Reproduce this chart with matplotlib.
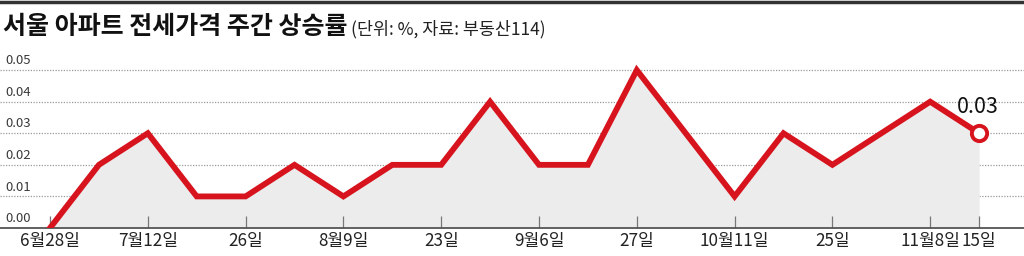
import matplotlib
matplotlib.use("Agg")
import matplotlib.pyplot as plt
import matplotlib.transforms as mtransforms

plt.rcParams["font.family"] = ["Noto Sans CJK KR", "DejaVu Sans"]

# weekly rate of change (%), 20 weeks from 6/28 to 11/15
values = [0.00, 0.02, 0.03, 0.01, 0.01, 0.02, 0.01, 0.02, 0.02, 0.04,
          0.02, 0.02, 0.05, 0.03, 0.01, 0.03, 0.02, 0.03, 0.04, 0.03]
tick_idx = [0, 2, 4, 6, 8, 10, 12, 14, 16, 18, 19]
tick_labels = ["6월28일", "7월12일", "26일", "8월9일", "23일", "9월6일",
               "27일", "10월11일", "25일", "11월8일", "15일"]
y_ticks = [0.00, 0.01, 0.02, 0.03, 0.04, 0.05]

RED = "#d7141e"
W, H = 1024, 256

fig = plt.figure(figsize=(10.24, 2.56), dpi=100)
ax = fig.add_axes([0, 28 / H, 1, 168 / H])

x = list(range(len(values)))
step = 48.9
ax.set_xlim(-50 / step, (W - 50) / step)
ax.set_ylim(0, 0.0532)

ax.fill_between(x, values, 0, color="#ececec", lw=0, zorder=1)
ax.plot(x, values, color=RED, lw=4.2, solid_joinstyle="miter", zorder=3)
ax.plot(x[-1], values[-1], "o", ms=11, mfc="white", mec=RED, mew=2.8, zorder=4)
ax.annotate(f"{values[-1]:.2f}", (x[-1], values[-1]), xytext=(-1, 11),
            textcoords="offset points", ha="center", va="bottom",
            fontsize=15.5, color="#111111")

# dotted gridlines with labels sitting above them at the left edge
for v in y_ticks[1:]:
    ax.axhline(v, color="#9a9a9a", lw=0.9, ls=(0, (1, 1.2)), zorder=0)
trans = mtransforms.blended_transform_factory(fig.transFigure, ax.transData)
for v in y_ticks:
    ax.text(5 / W, v + 0.0009, f"{v:.2f}", transform=trans, ha="left",
            va="bottom", fontsize=9.5, color="#3a3a3a")

ax.set_xticks(tick_idx)
ax.set_xticklabels(tick_labels, fontsize=12.3, color="#222222")
ax.tick_params(axis="x", direction="in", length=8.5, width=0.9,
               color="#777777", pad=3)
ax.set_yticks([])
for side in ["top", "left", "right"]:
    ax.spines[side].set_visible(False)
ax.spines["bottom"].set_color("#555555")
ax.spines["bottom"].set_linewidth(1.3)
ax.patch.set_alpha(0)

# title block
fig.add_artist(plt.Line2D([0, 1], [1 - 1.5 / H, 1 - 1.5 / H], color="#333333", lw=2.5))
fig.text(3 / W, 1 - 27 / H, "서울 아파트 전세가격 주간 상승률", fontsize=18,
         fontweight="heavy", color="#111111", va="center", ha="left")
fig.text(351 / W, 1 - 29 / H, "(단위: %, 자료: 부동산114)", fontsize=12.5,
         color="#222222", va="center", ha="left")

fig.savefig("out.png", dpi=100)
